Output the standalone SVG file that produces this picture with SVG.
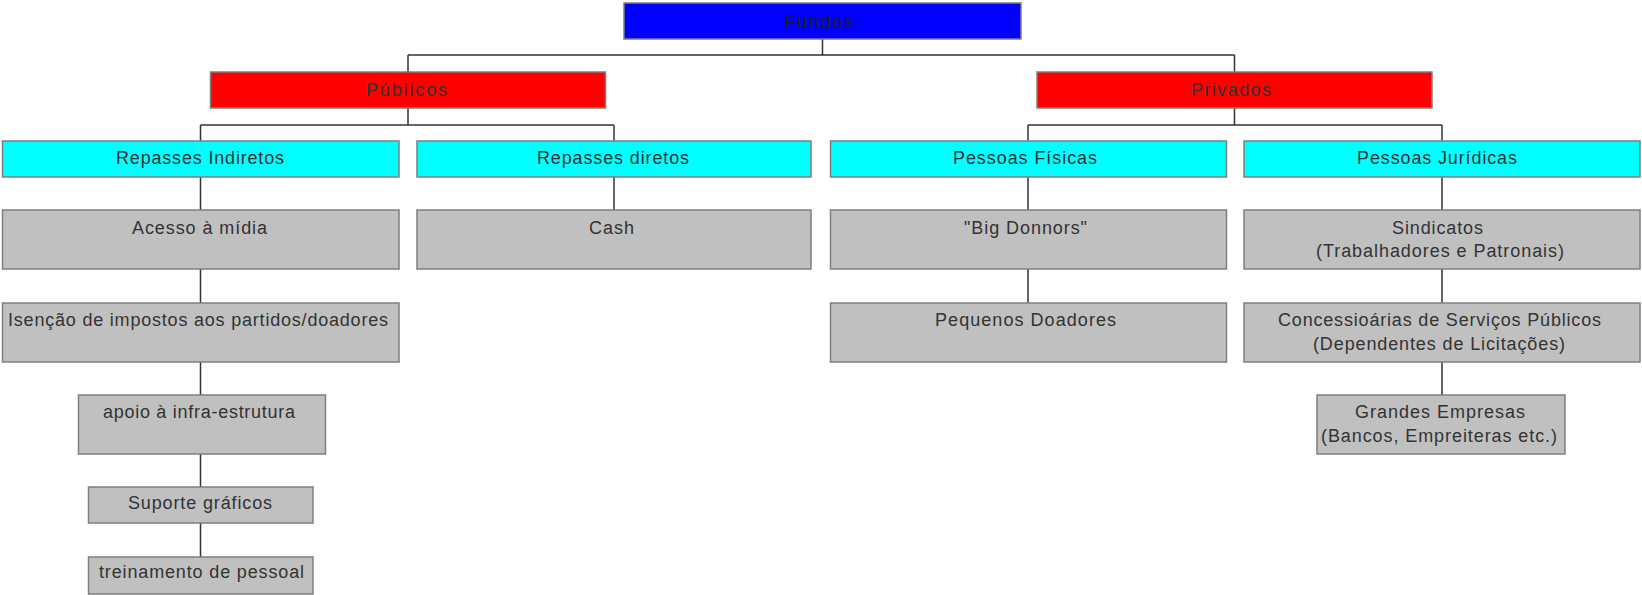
<svg xmlns="http://www.w3.org/2000/svg" width="1642" height="595" viewBox="0 0 1642 595">
<style>
.b{stroke:#7f7f7f;stroke-width:1.5}
.blue{fill:#0000ff}.red{fill:#ff0000}.cyan{fill:#00ffff}.gray{fill:#c0c0c0}
text{font-family:"Liberation Sans Narrow","Liberation Sans",Arial,sans-serif;font-size:18px;fill:#333333;text-anchor:middle}
#connectors path{fill:none;stroke:#333333;stroke-width:1.5}
</style>
<rect width="1642" height="595" fill="#ffffff"/>
<g id="connectors">
<path d="M822.5,39V55M408,55H1234.5M408,55V72M1234.5,55V72"/>
<path d="M408,108V125M200.5,125H614M200.5,125V141M614,125V141"/>
<path d="M1234.5,108V125M1028,125H1442M1028,125V141M1442,125V141"/>
<path d="M200.5,177V210M200.5,269V303M200.5,362V395M200.5,454V487M200.5,523V557"/>
<path d="M614,177V210"/>
<path d="M1028,177V210M1028,269V303"/>
<path d="M1442,177V210M1442,269V303M1442,362V395"/>
</g>
<g id="fundos"><rect class="b blue" x="624" y="3" width="397" height="36"/><text x="818.5" y="27.5" textLength="69" lengthAdjust="spacing" style="fill:#1a1a1a">Fundos</text></g>
<g id="publicos"><rect class="b red" x="210.5" y="72" width="395" height="36"/><text x="406.5" y="96" textLength="81" lengthAdjust="spacing">Públicos</text></g>
<g id="privados"><rect class="b red" x="1037" y="72" width="395" height="36"/><text x="1231" y="96" textLength="80" lengthAdjust="spacing">Privados</text></g>
<g id="repasses-indiretos"><rect class="b cyan" x="2.5" y="141" width="396.5" height="36"/><text x="200" y="164" textLength="168" lengthAdjust="spacing">Repasses Indiretos</text></g>
<g id="repasses-diretos"><rect class="b cyan" x="417" y="141" width="394" height="36"/><text x="613" y="164" textLength="152" lengthAdjust="spacing">Repasses diretos</text></g>
<g id="pessoas-fisicas"><rect class="b cyan" x="830.5" y="141" width="396" height="36"/><text x="1025" y="164" textLength="144" lengthAdjust="spacing">Pessoas Físicas</text></g>
<g id="pessoas-juridicas"><rect class="b cyan" x="1244" y="141" width="396" height="36"/><text x="1437" y="164" textLength="160" lengthAdjust="spacing">Pessoas Jurídicas</text></g>
<g id="acesso-midia"><rect class="b gray" x="2.5" y="210" width="396.5" height="59"/><text x="199.5" y="234" textLength="135" lengthAdjust="spacing">Acesso à mídia</text></g>
<g id="cash"><rect class="b gray" x="417" y="210" width="394" height="59"/><text x="611.5" y="234" textLength="45" lengthAdjust="spacing">Cash</text></g>
<g id="big-donnors"><rect class="b gray" x="830.5" y="210" width="396" height="59"/><text x="1025.5" y="234" textLength="123" lengthAdjust="spacing">"Big Donnors"</text></g>
<g id="sindicatos"><rect class="b gray" x="1244" y="210" width="396" height="59"/><text x="1437.5" y="234" textLength="91" lengthAdjust="spacing">Sindicatos</text><text x="1440" y="257" textLength="248" lengthAdjust="spacing">(Trabalhadores e Patronais)</text></g>
<g id="isencao"><rect class="b gray" x="2.5" y="303" width="396.5" height="59"/><text x="198" y="326" textLength="380" lengthAdjust="spacing">Isenção de impostos aos partidos/doadores</text></g>
<g id="pequenos-doadores"><rect class="b gray" x="830.5" y="303" width="396" height="59"/><text x="1025.5" y="326" textLength="181" lengthAdjust="spacing">Pequenos Doadores</text></g>
<g id="concessionarias"><rect class="b gray" x="1244" y="303" width="396" height="59"/><text x="1439.5" y="326" textLength="323" lengthAdjust="spacing">Concessioárias de Serviços Públicos</text><text x="1439" y="350" textLength="252" lengthAdjust="spacing">(Dependentes de Licitações)</text></g>
<g id="apoio"><rect class="b gray" x="78.5" y="395" width="247" height="59"/><text x="199" y="418" textLength="192" lengthAdjust="spacing">apoio à infra-estrutura</text></g>
<g id="grandes-empresas"><rect class="b gray" x="1317" y="395" width="248" height="59"/><text x="1440" y="418" textLength="170" lengthAdjust="spacing">Grandes Empresas</text><text x="1439" y="442" textLength="236" lengthAdjust="spacing">(Bancos, Empreiteras etc.)</text></g>
<g id="suporte-graficos"><rect class="b gray" x="88.5" y="487" width="224.5" height="36"/><text x="200" y="509" textLength="144" lengthAdjust="spacing">Suporte gráficos</text></g>
<g id="treinamento"><rect class="b gray" x="88.5" y="557" width="224.5" height="37"/><text x="201.5" y="578" textLength="205" lengthAdjust="spacing">treinamento de pessoal</text></g>
</svg>
